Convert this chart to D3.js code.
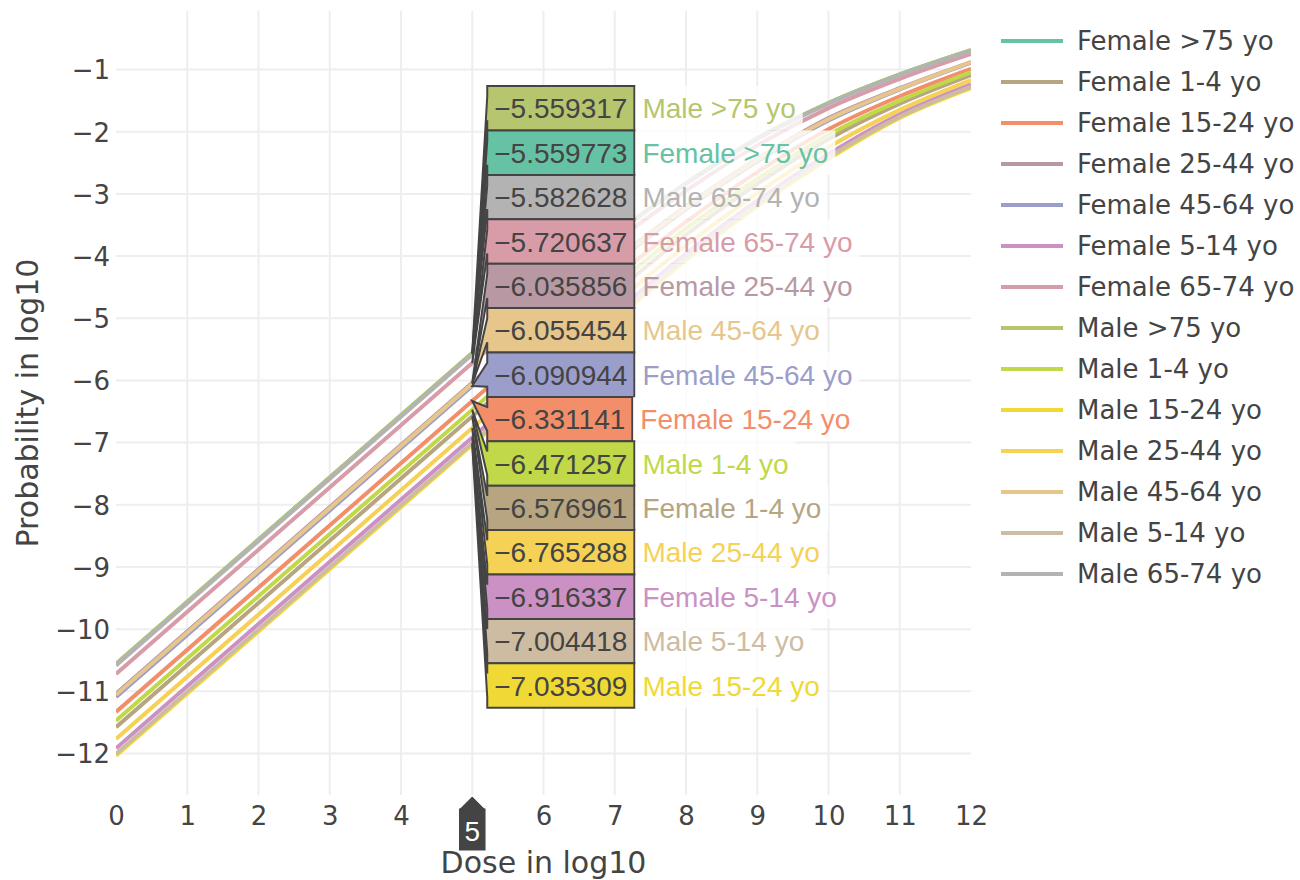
<!DOCTYPE html>
<html><head><meta charset="utf-8">
<script src="https://cdn.jsdelivr.net/npm/d3@7"></script>
<style>body{margin:0;background:#fff}svg{display:block}</style>
</head><body><svg id="chart" width="1300" height="880"></svg>
<script>
// ---------------- data ----------------
const doseLog = [0, 5, 6, 7, 8, 9, 10, 11, 12];
const seriesNames = ["Female >75 yo", "Female 1-4 yo", "Female 15-24 yo", "Female 25-44 yo",
  "Female 45-64 yo", "Female 5-14 yo", "Female 65-74 yo", "Male >75 yo", "Male 1-4 yo",
  "Male 15-24 yo", "Male 25-44 yo", "Male 45-64 yo", "Male 5-14 yo", "Male 65-74 yo"];
const femaleOver75 = [-10.559773, -5.559773, -4.57, -3.64, -2.83, -2.11, -1.54, -1.08, -0.69];
const female1to4   = [-11.576961, -6.576961, -5.58, -4.59, -3.66, -2.84, -2.12, -1.55, -1.09];
const female15to24 = [-11.331141, -6.331141, -5.33, -4.35, -3.45, -2.65, -1.96, -1.43, -0.99];
const female25to44 = [-11.035856, -6.035856, -5.04, -4.07, -3.20, -2.44, -1.78, -1.30, -0.88];
const female45to64 = [-11.090944, -6.090944, -5.09, -4.12, -3.25, -2.48, -1.82, -1.32, -0.89];
const female5to14  = [-11.916337, -6.916337, -5.92, -4.92, -3.96, -3.11, -2.36, -1.72, -1.24];
const female65to74 = [-10.720637, -5.720637, -4.73, -3.78, -2.95, -2.22, -1.62, -1.15, -0.75];
const maleOver75   = [-10.559317, -5.559317, -4.57, -3.64, -2.83, -2.11, -1.54, -1.08, -0.69];
const male1to4     = [-11.471257, -6.471257, -5.47, -4.48, -3.56, -2.76, -2.05, -1.50, -1.04];
const male15to24   = [-12.035309, -7.035309, -6.04, -5.04, -4.07, -3.20, -2.44, -1.78, -1.30];
const male25to44   = [-11.765288, -6.765288, -5.77, -4.77, -3.83, -2.99, -2.25, -1.65, -1.17];
const male45to64   = [-11.055454, -6.055454, -5.06, -4.09, -3.22, -2.45, -1.80, -1.31, -0.88];
const male5to14    = [-12.004418, -7.004418, -6.00, -5.00, -4.03, -3.17, -2.41, -1.76, -1.28];
const male65to74   = [-10.582628, -5.582628, -4.59, -3.66, -2.84, -2.12, -1.55, -1.09, -0.70];
const seriesValues = [femaleOver75, female1to4, female15to24, female25to44, female45to64,
  female5to14, female65to74, maleOver75, male1to4, male15to24, male25to44, male45to64,
  male5to14, male65to74];
const xTickValues = [0, 1, 2, 3, 4, 5, 6, 7, 8, 9, 10, 11, 12];
const yTickValues = [-1, -2, -3, -4, -5, -6, -7, -8, -9, -10, -11, -12];
const xRange = [0, 12];
const yRange = [-12.667, -0.059];
const hoverDose = 5;
const xTitle = "Dose in log10";
const yTitle = "Probability in log10";

// ---------------- layout ----------------
const W = 1300, H = 880;
const plot = {left: 116, right: 971, top: 11, bottom: 795};
const tickFont = "'DejaVu Sans', Verdana, sans-serif";
const hoverFont = "'Liberation Sans', Arial, sans-serif";
const textColor = "#444";

const palette = d3.quantize(d3.piecewise(d3.interpolateRgb, d3.schemeSet2), seriesNames.length);
const series = seriesNames.map((name, i) => ({
  name, color: palette[i],
  points: doseLog.map((d, j) => ({x: d, y: seriesValues[i][j]})),
  hoverValue: seriesValues[i][doseLog.indexOf(hoverDose)]
}));

const svg = d3.select("#chart");
svg.append("rect").attr("width", W).attr("height", H).attr("fill", "#fff");

const x = d3.scaleLinear().domain(xRange).range([plot.left, plot.right]);
const y = d3.scaleLinear().domain(yRange).range([plot.bottom, plot.top]);

// grid
const grid = svg.append("g");
grid.selectAll("line.gx").data(xTickValues.filter(v => v > xRange[0] && v < xRange[1]))
  .join("line").attr("x1", d => x(d)).attr("x2", d => x(d))
  .attr("y1", plot.top).attr("y2", plot.bottom)
  .attr("stroke", "#eee").attr("stroke-width", 2);
grid.selectAll("line.gy").data(yTickValues)
  .join("line").attr("y1", d => y(d)).attr("y2", d => y(d))
  .attr("x1", plot.left).attr("x2", plot.right)
  .attr("stroke", "#eee").attr("stroke-width", 2);

// axes (labels only, via d3 axis generators)
const fmt = d3.format("d");
const xAxis = svg.append("g").attr("transform", `translate(0,${plot.bottom})`)
  .call(d3.axisBottom(x).tickValues(xTickValues).tickFormat(fmt).tickSize(0).tickPadding(30));
const yAxis = svg.append("g").attr("transform", `translate(${plot.left},0)`)
  .call(d3.axisLeft(y).tickValues(yTickValues).tickFormat(fmt).tickSize(0).tickPadding(6));
[xAxis, yAxis].forEach(a => {
  a.select(".domain").remove();
  a.selectAll("text").attr("font-family", tickFont).attr("font-size", 26).attr("fill", textColor);
});
xAxis.selectAll("text").attr("dy", null).attr("y", 30);
// the tick under the x hover label is covered by it
xAxis.selectAll(".tick").filter(d => d === hoverDose).select("text").attr("visibility", "hidden");
yAxis.selectAll("text").attr("dy", "0.36em");

// lines
svg.append("clipPath").attr("id", "clip").append("rect")
  .attr("x", plot.left).attr("y", plot.top)
  .attr("width", plot.right - plot.left).attr("height", plot.bottom - plot.top);
const line = d3.line().x(d => x(d.x)).y(d => y(d.y)).curve(d3.curveMonotoneX);
svg.append("g").attr("clip-path", "url(#clip)")
  .selectAll("path").data(series).join("path")
  .attr("d", d => line(d.points))
  .attr("fill", "none").attr("stroke", d => d.color).attr("stroke-width", 4)
  .attr("stroke-linejoin", "round");

// axis titles
svg.append("text").attr("x", (plot.left + plot.right) / 2).attr("y", 873)
  .attr("text-anchor", "middle").attr("font-family", tickFont).attr("font-size", 30)
  .attr("fill", textColor).text(xTitle);
svg.append("text").attr("transform", `translate(38,${(plot.top + plot.bottom) / 2}) rotate(-90)`)
  .attr("text-anchor", "middle").attr("font-family", tickFont).attr("font-size", 30)
  .attr("fill", textColor).text(yTitle);

// legend
const legend = svg.append("g");
const li = legend.selectAll("g").data(series).join("g")
  .attr("transform", (d, i) => `translate(1001,${41 + i * 41})`);
li.append("line").attr("x1", 0).attr("x2", 62).attr("stroke", d => d.color).attr("stroke-width", 4);
li.append("text").attr("x", 76).attr("dy", "0.36em").attr("font-family", tickFont)
  .attr("font-size", 26).attr("fill", textColor).text(d => d.name);

// hover labels (compare mode at dose = 5)
const vfmt = d3.format(".6f");
const rowH = 44.4, arrow = 15, pad = 7;
const px = x(hoverDose);
const items = series.slice().sort((a, b) => b.hoverValue - a.hoverValue);
const meanY = d3.mean(items, d => y(d.hoverValue));
const stackTop = meanY - items.length * rowH / 2;
const hover = svg.append("g");
items.forEach((d, i) => {
  const cy = stackTop + rowH * (i + 0.5);
  const py = y(d.hoverValue);
  const g = hover.append("g");
  const path = g.append("path");
  const t = g.append("text").attr("font-family", hoverFont).attr("font-size", 28)
    .attr("fill", textColor).attr("dy", "0.36em").attr("y", cy).text(vfmt(d.hoverValue));
  const tw = t.node().getComputedTextLength();
  const bl = px + arrow, br = bl + tw + 2 * pad;
  t.attr("x", bl + pad);
  const top = cy - rowH / 2, bot = cy + rowH / 2;
  path.attr("d", `M${px},${py}L${bl},${cy + 12}V${bot}H${br}V${top}H${bl}V${cy - 12}Z`)
    .attr("fill", d.color).attr("stroke", textColor).attr("stroke-width", 2);
  const nameRect = g.append("rect");
  const nt = g.append("text").attr("font-family", hoverFont).attr("font-size", 28)
    .attr("fill", d.color).attr("dy", "0.36em").attr("y", cy).attr("x", br + 8).text(d.name);
  const nw = nt.node().getComputedTextLength();
  nameRect.attr("x", br + 1).attr("y", top).attr("width", nw + 14).attr("height", rowH)
    .attr("fill", "#fff").attr("fill-opacity", 0.8);
});

// x hover label
const xh = svg.append("g");
const xt = xh.append("text").attr("font-family", hoverFont).attr("font-size", 28)
  .attr("fill", "#fff").attr("text-anchor", "middle").attr("x", px).attr("y", 831)
  .attr("dy", "0.36em").text(fmt(hoverDose));
const hw = (xt.node().getComputedTextLength() + 12) / 2;
xh.insert("path", "text")
  .attr("d", `M${px},${plot.bottom + 1}L${px + 12},${plot.bottom + 13}H${px + hw}V${plot.bottom + 56}H${px - hw}V${plot.bottom + 13}H${px - 12}Z`)
  .attr("fill", "#444").attr("stroke", "#fff").attr("stroke-width", 1);
</script></body></html>
